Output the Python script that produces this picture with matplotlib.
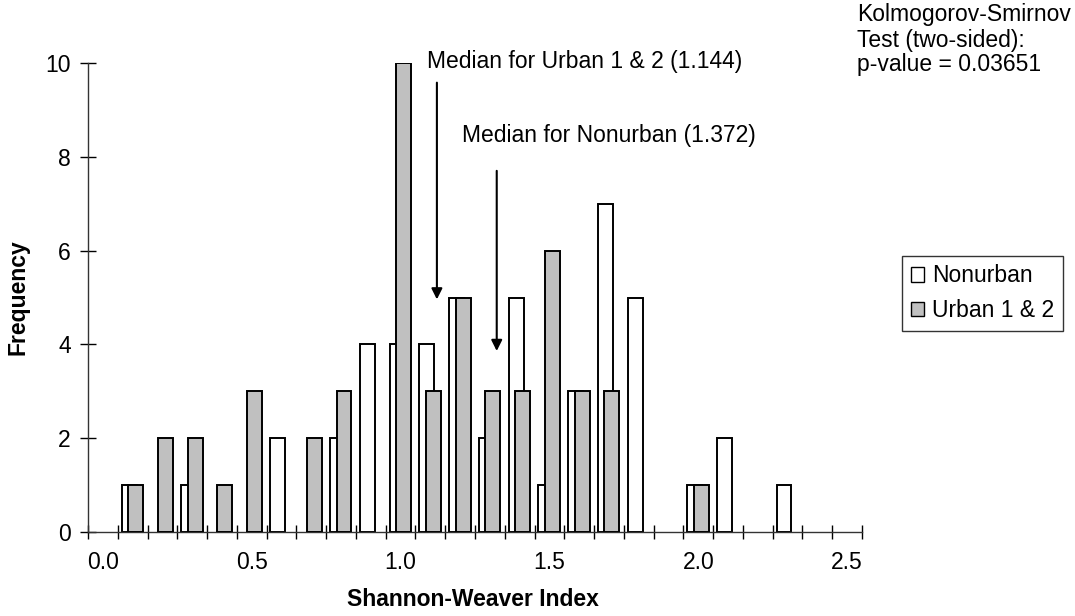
import matplotlib
matplotlib.use("Agg")
import matplotlib.pyplot as plt
from matplotlib.patches import Patch
import numpy as np

plt.rcParams['font.family'] = ['Liberation Sans', 'DejaVu Sans']
plt.rcParams['font.size'] = 16.5

# bin centres of the Shannon-Weaver index (0.1 wide bins)
bins = [round(0.1 * i, 1) for i in range(26)]
nonurban = [0, 1, 0, 1, 0, 0, 2, 0, 2, 4, 4, 4, 5, 2, 5, 1, 3, 7, 5, 0, 1, 2, 0, 1, 0, 0]
urban = [0, 1, 2, 2, 1, 3, 0, 2, 3, 0, 10, 3, 5, 3, 3, 6, 3, 3, 0, 0, 1, 0, 0, 0, 0, 0]
xtick_vals = [0.0, 0.5, 1.0, 1.5, 2.0, 2.5]

median_urban_label = "Median for Urban 1 & 2 (1.144)"
median_nonurban_label = "Median for Nonurban (1.372)"
ks_lines = ["Kolmogorov-Smirnov", "Test (two-sided):", "p-value = 0.03651"]

fig = plt.figure(figsize=(10.75, 6.16), dpi=100)
ax = fig.add_axes([88/1075, 1-532/616, 774/1075, 469/616])

x = np.array(bins)
n = np.array(nonurban)
u = np.array(urban)
w = 0.05
# empty bins are not drawn (no outline on the axis)
ax.bar(x[n > 0] - 0.012, n[n > 0], width=w, color='white', edgecolor='black', linewidth=1.4, zorder=2)
ax.bar(x[u > 0] + 0.010, u[u > 0], width=w, color='#c0c0c0', edgecolor='black', linewidth=1.4, zorder=3)

ax.set_xlim(-0.05, 2.55)
ax.set_ylim(0, 10)
ax.set_yticks(range(0, 11, 2))
ax.set_xticks(xtick_vals)
ax.set_xticklabels([f"{v:.1f}" for v in xtick_vals])
ax.set_xticks(np.arange(-0.05, 2.56, 0.1), minor=True)
ax.tick_params(axis='x', which='major', length=0, pad=14)
ax.tick_params(axis='x', which='minor', direction='inout', length=10, width=1)
ax.tick_params(axis='y', which='major', direction='inout', length=11, width=1, pad=7)

for s in ['top', 'right']:
    ax.spines[s].set_visible(False)
for s in ['left', 'bottom']:
    ax.spines[s].set_linewidth(1)
    ax.spines[s].set_color('#333333')

ax.set_xlabel("Shannon-Weaver Index", fontweight='bold', va='center')
ax.xaxis.set_label_coords(0.497, -0.143)
ax.set_ylabel("Frequency", fontweight='bold', va='center')
ax.yaxis.set_label_coords(-0.0904, 0.5)

# median arrows
ax.annotate("", xy=(1.122, 4.9), xytext=(1.122, 9.64),
            arrowprops=dict(arrowstyle='-|>', color='black', lw=1.5, mutation_scale=16),
            annotation_clip=False)
ax.annotate("", xy=(1.323, 3.8), xytext=(1.323, 7.76),
            arrowprops=dict(arrowstyle='-|>', color='black', lw=1.5, mutation_scale=16),
            annotation_clip=False)
ax.text(1.088, 10.03, median_urban_label, ha='left', va='center', clip_on=False)
ax.text(1.205, 8.46, median_nonurban_label, ha='left', va='center', clip_on=False)

for i, line in enumerate(ks_lines):
    fig.text(857/1075, 1 - (15 + 25*i)/616, line, ha='left', va='center')

handles = [Patch(facecolor='white', edgecolor='black', linewidth=1),
           Patch(facecolor='#c0c0c0', edgecolor='black', linewidth=1)]
leg = fig.legend(handles, ["Nonurban", "Urban 1 & 2"], loc='upper left',
                 bbox_to_anchor=(902/1075, 1 - 255.7/616), frameon=True, fancybox=False,
                 handlelength=0.6, handleheight=0.6, handletextpad=0.35,
                 borderpad=0.38, labelspacing=0.5, borderaxespad=0)
leg.get_frame().set_edgecolor('black')
leg.get_frame().set_linewidth(1)

fig.savefig("out.png", dpi=100)
